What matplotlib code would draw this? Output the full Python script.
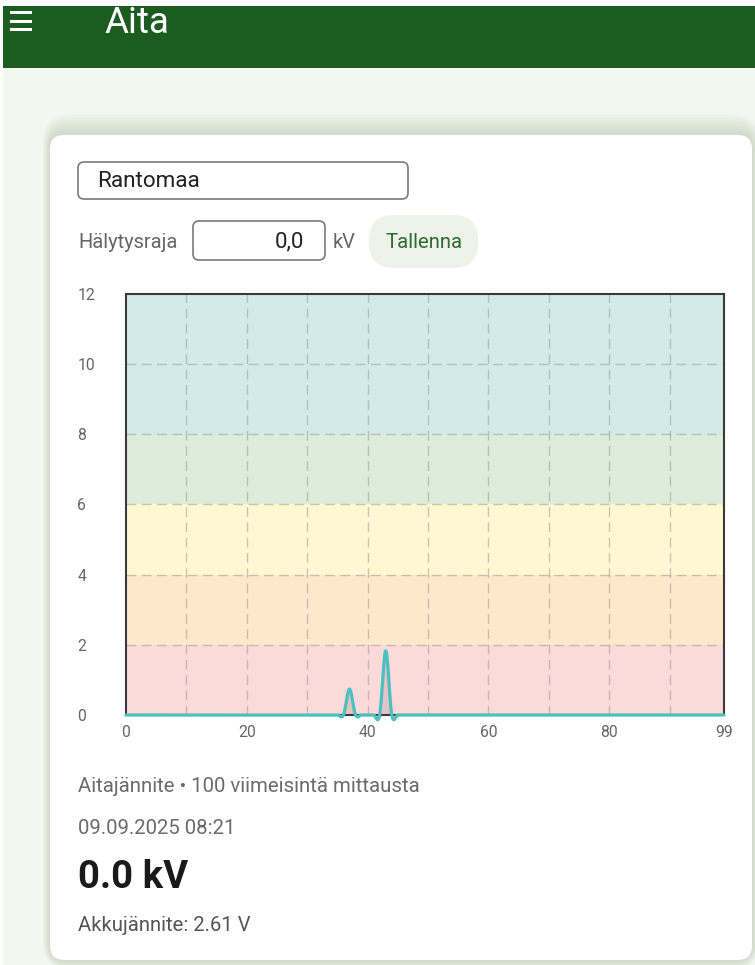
import numpy as np
import matplotlib
matplotlib.use("Agg")
import matplotlib.pyplot as plt
from matplotlib.patches import FancyBboxPatch, Rectangle

plt.rcParams['font.family'] = ['Roboto', 'DejaVu Sans']

# ---------------- data ----------------
n_points = 100
peak_idx = [37, 43]
peak_val = [0.74, 1.83]
values = [0.0] * n_points
for i, v in zip(peak_idx, peak_val):
    values[i] = v

band_edges = [0, 2, 4, 6, 8, 12]
band_colors = ['#fddada', '#fde8cc', '#fef8d2', '#dcedda', '#d3ebe8']
xticks = [0, 20, 40, 60, 80, 99]
yticks = [0, 2, 4, 6, 8, 10, 12]
grid_x = [10, 20, 30, 40, 50, 60, 70, 80, 90]
grid_y = [2, 4, 6, 8, 10]

title = "Aita"
site_name = "Rantomaa"
alarm_label = "Hälytysraja"
alarm_value = "0,0"
unit = "kV"
button_label = "Tallenna"
caption = "Aitajännite • 100 viimeisintä mittausta"
timestamp = "09.09.2025 08:21"
current_value = "0.0 kV"
battery = "Akkujännite: 2.61 V"

# ---------------- figure ----------------
W, H = 755, 965
fig = plt.figure(figsize=(W / 100, H / 100), dpi=100)
fig.patch.set_facecolor('white')

ui = fig.add_axes([0, 0, 1, 1])
ui.set_xlim(0, W)
ui.set_ylim(H, 0)
ui.axis('off')
ui.set_zorder(0)

# page background
ui.add_patch(Rectangle((3, 6), W, H, facecolor='#f4f7ef', edgecolor='none'))
# top bar
ui.add_patch(Rectangle((3, 6), W, 62, facecolor='#1d5c20', edgecolor='none'))
for yy in (12.5, 21, 29.5):
    ui.add_patch(Rectangle((10, yy - 1.5), 22, 3.2, facecolor='white', edgecolor='none'))
ui.text(104, 33, title, color='white', fontsize=26.5, va='baseline', ha='left')

# card shadow + card (soft, spread upward)
for k in range(14, 0, -1):
    ui.add_patch(FancyBboxPatch((50 - k * 0.5, 135 - k * 1.5), 702 + k * 1.0, 825 + k * 2.2,
                                boxstyle="round,pad=0,rounding_size=%g" % (14 + k),
                                facecolor='#3a4a30', alpha=0.012, edgecolor='none'))
ui.add_patch(FancyBboxPatch((50, 135), 702, 825, boxstyle="round,pad=0,rounding_size=14",
                            facecolor='white', edgecolor='none'))

# name field
ui.add_patch(FancyBboxPatch((78, 162), 330, 37, boxstyle="round,pad=0,rounding_size=6",
                            facecolor='white', edgecolor='#7a7a7a', linewidth=1.2))
ui.text(97, 187, site_name, color='#222222', fontsize=16.2, va='baseline', ha='left')

# alarm row
ui.text(78, 248, alarm_label, color='#666666', fontsize=14.5, va='baseline', ha='left')
ui.add_patch(FancyBboxPatch((193, 221), 132, 39, boxstyle="round,pad=0,rounding_size=6",
                            facecolor='white', edgecolor='#7a7a7a', linewidth=1.2))
ui.text(304, 247, alarm_value, color='#222222', fontsize=16, va='baseline', ha='right')
ui.text(333, 248, unit, color='#666666', fontsize=14.5, va='baseline', ha='left')
ui.add_patch(FancyBboxPatch((369, 217), 109, 51, boxstyle="round,pad=0,rounding_size=25",
                            facecolor='black', alpha=0.06, edgecolor='none'))
ui.add_patch(FancyBboxPatch((369, 215), 109, 51, boxstyle="round,pad=0,rounding_size=25",
                            facecolor='#eef2e8', edgecolor='none'))
ui.text(424, 248, button_label, color='#2e6b30', fontsize=14.6, va='baseline', ha='center')

# bottom texts
ui.text(78, 792, caption, color='#6b6b6b', fontsize=14.7, va='baseline', ha='left')
ui.text(78, 834, timestamp, color='#6b6b6b', fontsize=14.7, va='baseline', ha='left')
ui.text(78, 888, current_value, color='#1a1a1a', fontsize=27.5, fontweight='bold', va='baseline', ha='left')
ui.text(78, 931, battery, color='#555555', fontsize=14.6, va='baseline', ha='left')

# ---------------- chart ----------------
L, R, T, B = 126, 724, 294, 715
ax = fig.add_axes([L / W, 1 - B / H, (R - L) / W, (B - T) / H])
ax.set_zorder(2)
ax.set_xlim(0, n_points - 1)
ax.set_ylim(0, 12)
ax.patch.set_alpha(0)

for lo, hi, c in zip(band_edges[:-1], band_edges[1:], band_colors):
    ax.axhspan(lo, hi, facecolor=c, edgecolor='none', zorder=0)

grid_kw = dict(color='#9a9a9a', alpha=0.55, linewidth=1.0, linestyle=(0, (7, 4)), zorder=1)
for gx in grid_x:
    ax.axvline(gx, **grid_kw)
for gy in grid_y:
    ax.axhline(gy, **grid_kw)

# Catmull-Rom interpolation of the series
y = np.asarray(values, dtype=float)
x = np.arange(n_points, dtype=float)
yp = np.concatenate([[y[0]], y, [y[-1]]])
xs_all, ys_all = [], []
t = np.linspace(0, 1, 25)
for i in range(n_points - 1):
    p0, p1, p2, p3 = yp[i], yp[i + 1], yp[i + 2], yp[i + 3]
    m1 = (p2 - p0) / 2
    m2 = (p3 - p1) / 2
    h00 = 2 * t**3 - 3 * t**2 + 1
    h10 = t**3 - 2 * t**2 + t
    h01 = -2 * t**3 + 3 * t**2
    h11 = t**3 - t**2
    ys_all.append(h00 * p1 + h10 * m1 + h01 * p2 + h11 * m2)
    xs_all.append(x[i] + t)
xs = np.concatenate(xs_all)
ys = np.concatenate(ys_all)

ax.fill_between(xs, ys, 0, color='black', alpha=0.1, linewidth=0, zorder=2)
for s in ax.spines.values():
    s.set_color('#3a3a3a')
    s.set_linewidth(1.5)
    s.set_zorder(3)
ax.plot(xs, ys, color='#4bc0c0', linewidth=2.3, zorder=4, clip_on=False,
        solid_joinstyle='round', solid_capstyle='round')

ax.set_xticks(xticks)
ax.set_xticklabels([str(v) for v in xticks])
ax.set_yticks(yticks)
ax.set_yticklabels([str(v) for v in yticks])
ax.tick_params(axis='both', length=0, labelsize=11.3, labelcolor='#666666')
ax.tick_params(axis='x', pad=7.5)
ax.tick_params(axis='y', pad=35)
for lab in ax.get_yticklabels():
    lab.set_horizontalalignment('left')

fig.savefig('out.png', dpi=100, facecolor='white')
